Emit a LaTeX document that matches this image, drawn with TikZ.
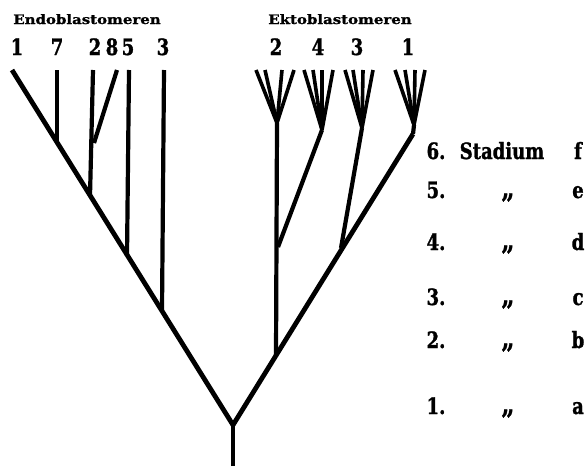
\documentclass[tikz,border=0pt]{standalone}
\usepackage{fontspec}
\setmainfont{DejaVu Serif}
\newfontfamily\labfont{DejaVu Serif}[FakeStretch=0.8, FakeBold=1.2]
\newfontfamily\headfont{DejaVu Serif}[FakeStretch=1.15, FakeBold=1]
\begin{document}
\begin{tikzpicture}[x=1pt,y=-1pt,
  trunk/.style={line width=4.8pt, line join=round},
  stem/.style={line width=4.2pt, line join=round},
  twig/.style={line width=3.6pt, line join=round},
  lbl/.style={font=\labfont\bfseries\fontsize{22.5}{22.5}\selectfont, inner sep=0pt, anchor=base},
  ditto/.style={font=\labfont\bfseries\fontsize{28}{28}\selectfont, inner sep=0pt, anchor=base},
  head/.style={font=\headfont\bfseries\fontsize{13}{13}\selectfont, inner sep=0pt, anchor=base},
]
\useasboundingbox (0,0) rectangle (588,466);
% ---------- coordinates ----------
\coordinate (bot) at (233,466);
\coordinate (root) at (233,425);
% left (endoblast) side
\coordinate (L1) at (12,70);
\coordinate (j7) at (57,142);
\coordinate (t7) at (57,70);
\coordinate (j2) at (90,196);
\coordinate (t2) at (93,70);
\coordinate (j8) at (94,143);
\coordinate (t8) at (117,70);
\coordinate (j5) at (127,256);
\coordinate (t5) at (129,70);
\coordinate (j3) at (162,310);
\coordinate (t3) at (164,70);
% right (ektoblast) side
\coordinate (R1) at (413,134);
\coordinate (jA) at (276,355);
\coordinate (jB) at (341,248);
\coordinate (jC) at (278,247);
\coordinate (F2) at (277,123);
\coordinate (F4) at (322,130);
\coordinate (F3) at (362,128);
\coordinate (F1) at (414,125);
% ---------- trunk ----------
\draw[trunk] (bot) -- (root);
\draw[trunk] (root) -- (L1);
\draw[trunk] (root) -- (R1);
% left stems
\draw[stem] (j7) -- (t7);
\draw[stem] (j2) -- (t2);
\draw[stem] (j8) -- (t8);
\draw[stem] (j5) -- (t5);
\draw[stem] (j3) -- (t3);
% right stems
\draw[stem] (jA) -- (F2);
\draw[stem] (jC) -- (F4);
\draw[stem] (jB) -- (F3);
\draw[stem] (R1) -- (F1);
% fans
\foreach \x in {256,265,282,294} \draw[twig] (F2) -- (\x,70);
\foreach \x in {304,313,322,333} \draw[twig] (F4) -- (\x,70);
\foreach \x in {345,353,363,373} \draw[twig] (F3) -- (\x,70);
\foreach \x in {395,405,415,425} \draw[twig] (F1) -- (\x,70);
% ---------- headings ----------
\node[head] (endo) at (87,24) {Endoblastomeren};
\node[head] (ekto) at (340,24) {Ektoblastomeren};
% ---------- numbers ----------
\node[lbl] (n1) at (17,55) {1};
\node[lbl] (n7) at (57,55) {7};
\node[lbl] (n2) at (95,55) {2};
\node[lbl] (n8) at (112,55) {8};
\node[lbl] (n5) at (128,55) {5};
\node[lbl] (n3) at (163,55) {3};
\node[lbl] (k2) at (276,55) {2};
\node[lbl] (k4) at (318,55) {4};
\node[lbl] (k3) at (357,55) {3};
\node[lbl] (k1) at (408,55) {1};
% ---------- stages ----------
\node[lbl] (s6) at (436,159) {6.};
\node[lbl] (st) at (502,159) {Stadium};
\node[lbl] (f) at (578,159) {f};
\node[lbl] (s5) at (436,198) {5.};
\node[ditto] (d5) at (508,198) {„};
\node[lbl] (e) at (578,198) {e};
\node[lbl] (s4) at (436,250) {4.};
\node[ditto] (d4) at (508,250) {„};
\node[lbl] (d) at (578,250) {d};
\node[lbl] (s3) at (436,305) {3.};
\node[ditto] (d3) at (508,305) {„};
\node[lbl] (c) at (578,305) {c};
\node[lbl] (s2) at (436,348) {2.};
\node[ditto] (d2) at (508,348) {„};
\node[lbl] (b) at (578,348) {b};
\node[lbl] (s1) at (436,414) {1.};
\node[ditto] (d1) at (508,414) {„};
\node[lbl] (a) at (578,414) {a};
\end{tikzpicture}
\end{document}
